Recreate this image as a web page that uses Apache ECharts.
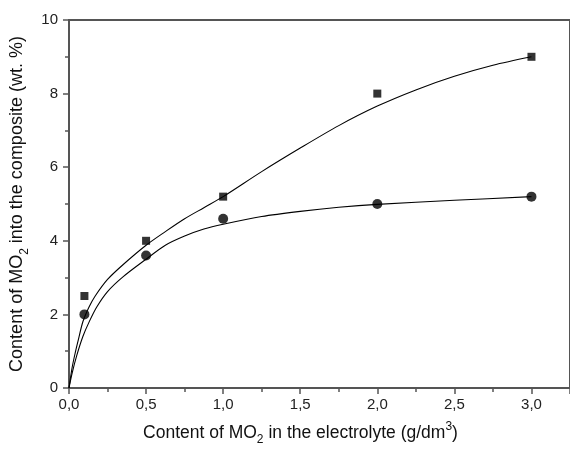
<!DOCTYPE html>
<html>
<head>
<meta charset="utf-8">
<script src="https://cdn.jsdelivr.net/npm/echarts@6/dist/echarts.min.js"></script>
<style>html,body{margin:0;padding:0;background:#fff;}#chart{width:570px;height:451px;}</style>
</head>
<body>
<div id="chart"></div>
<script>
// Measured points
const xPoints = [0.1, 0.5, 1.0, 2.0, 3.0];
const series1Values = [2.5, 4.0, 5.2, 8.0, 9.0];
const series2Values = [2.0, 3.6, 4.6, 5.0, 5.2];
// Fitted curves
const fit1X = [0, 0.02, 0.04, 0.06, 0.09, 0.13, 0.17, 0.25, 0.35, 0.5, 0.625, 0.75, 0.875, 1.0, 1.25, 1.5, 1.75, 2.0, 2.25, 2.5, 2.75, 3.0];
const fit1Y = [0, 0.55, 0.95, 1.3, 1.8, 2.2, 2.5, 2.95, 3.35, 3.88, 4.25, 4.6, 4.9, 5.2, 5.88, 6.52, 7.13, 7.66, 8.1, 8.47, 8.77, 9.0];
const fit2X = [0, 0.02, 0.05, 0.09, 0.13, 0.18, 0.25, 0.35, 0.5, 0.625, 0.75, 0.875, 1.0, 1.25, 1.5, 1.75, 2.0, 2.5, 3.0];
const fit2Y = [0, 0.4, 0.88, 1.4, 1.79, 2.2, 2.62, 3.02, 3.5, 3.88, 4.13, 4.32, 4.45, 4.66, 4.8, 4.91, 4.99, 5.1, 5.2];
// Curve labels
const curveLabels = ['1', '2'];
const curveLabelPos = [[2.97, 8.24], [2.97, 4.48]];
// Axis ranges / ticks
const xTicks = {min: 0, max: 3.25, interval: 0.5};
const yTicks = {min: 0, max: 10, interval: 2};

const zip = (a, b) => a.map((v, i) => [v, b[i]]);
const FONT = '"Liberation Sans", Arial, sans-serif';
const AX = '#555555';

const chart = echarts.init(document.getElementById('chart'), null, {renderer: 'canvas'});
chart.setOption({
  animation: false,
  backgroundColor: '#ffffff',
  grid: {left: 69, top: 20, width: 503, height: 369, show: true, borderColor: AX, borderWidth: 2, backgroundColor: 'transparent'},
  xAxis: {
    type: 'value', min: xTicks.min, max: xTicks.max, interval: xTicks.interval,
    axisLine: {onZero: false, lineStyle: {color: AX, width: 2}},
    axisTick: {show: true, inside: false, length: 6, lineStyle: {color: AX, width: 1.5}},
    minorTick: {show: true, splitNumber: 2, length: 4, lineStyle: {color: AX, width: 1.5}},
    splitLine: {show: false},
    axisLabel: {show: true, margin: 9, color: '#222', fontFamily: FONT, fontSize: 15,
      showMaxLabel: false,
      formatter: v => (Math.abs(v / 0.5 - Math.round(v / 0.5)) < 1e-6) ? v.toFixed(1).replace('.', ',') : ''},
    name: '{t|Content of MO}{sub|2}{t| in the electrolyte (g/dm}{sup|3}{t|)}',
    nameLocation: 'middle', nameGap: 33,
    nameTextStyle: {
      padding: [0, 38, 0, 0],
      rich: {
        t: {fontFamily: FONT, fontSize: 17.5, color: '#111', verticalAlign: 'top', padding: [3, 0, 0, 0]},
        sub: {fontFamily: FONT, fontSize: 12, color: '#111', verticalAlign: 'top', padding: [13, 0, 0, 0]},
        sup: {fontFamily: FONT, fontSize: 12, color: '#111', verticalAlign: 'top', padding: [0, 0, 0, 0]}
      }
    }
  },
  yAxis: {
    type: 'value', min: yTicks.min, max: yTicks.max, interval: yTicks.interval,
    axisLine: {onZero: false, lineStyle: {color: AX, width: 2}},
    axisTick: {show: true, inside: false, length: 6, lineStyle: {color: AX, width: 1.5}},
    minorTick: {show: true, splitNumber: 2, length: 4, lineStyle: {color: AX, width: 1.5}},
    splitLine: {show: false},
    axisLabel: {margin: 11, color: '#222', fontFamily: FONT, fontSize: 15},
    name: '{t|Content of MO}{sub|2}{t| into the composite (wt. %)}',
    nameLocation: 'middle', nameGap: 37, nameRotate: 90,
    nameTextStyle: {
      rich: {
        t: {fontFamily: FONT, fontSize: 18, color: '#111', verticalAlign: 'top', padding: [0, 0, 0, 0]},
        sub: {fontFamily: FONT, fontSize: 12, color: '#111', verticalAlign: 'top', padding: [10, 0, 0, 0]}
      }
    }
  },
  series: [
    {type: 'line', data: zip(fit1X, fit1Y), smooth: 0.3, showSymbol: false,
      lineStyle: {color: '#000', width: 1.1}, z: 3, silent: true},
    {type: 'line', data: zip(fit2X, fit2Y), smooth: 0.3, showSymbol: false,
      lineStyle: {color: '#000', width: 1.1}, z: 3, silent: true},
    {type: 'scatter', data: zip(xPoints, series1Values), symbol: 'rect', symbolSize: 8,
      itemStyle: {color: '#000'}, z: 4},
    {type: 'scatter', data: zip(xPoints, series2Values), symbol: 'circle', symbolSize: 10,
      itemStyle: {color: '#000'}, z: 4},
    {type: 'scatter', symbolSize: 0, symbol: 'none', z: 5,
      data: curveLabels.map((t, i) => ({value: curveLabelPos[i], name: t})),
      label: {show: true, position: 'inside', formatter: p => p.name, fontFamily: FONT, fontSize: 17, color: '#111'}}
  ]
});
</script>
</body>
</html>
